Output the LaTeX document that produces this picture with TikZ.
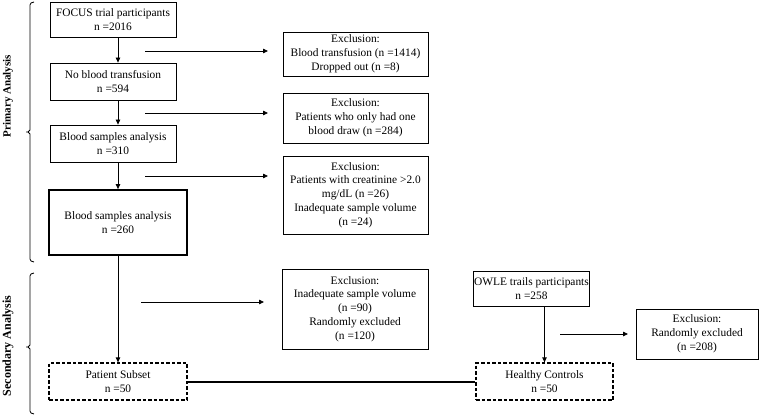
\documentclass[tikz,border=0pt]{standalone}
\usepackage{fontspec}
\setmainfont{Liberation Serif}
\usetikzlibrary{arrows.meta,calc}
\begin{document}
\begin{tikzpicture}[x=1pt,y=-1pt,
  box/.style={draw,line width=0.8pt,rectangle,align=center,inner sep=1pt,
    font=\fontsize{11.4}{13.8}\selectfont},
  thickbox/.style={box,line width=1.8pt},
  dashbox/.style={box,line width=1.3pt,dash pattern=on 3.5pt off 2pt},
  arr/.style={line width=0.8pt,-{Triangle[width=4.5pt,length=5pt]}},
  brace/.style={line width=0.8pt},
  lab/.style={font=\fontsize{11}{13}\selectfont\bfseries,rotate=90}]
\useasboundingbox (0,0) rectangle (760,417);
% left column
\node[box,minimum width=126pt,minimum height=35pt] (focus) at (113,19.5) {FOCUS trial participants\\n =2016};
\node[box,minimum width=126pt,minimum height=37pt] (nobt) at (113,81.5) {No blood transfusion\\n =594};
\node[box,minimum width=126pt,minimum height=37pt] (bs310) at (113,143.5) {Blood samples analysis\\n =310};
\node[thickbox,minimum width=138pt,minimum height=65pt] (bs260) at (118,222.5) {Blood samples analysis\\n =260};
\node[dashbox,minimum width=138pt,minimum height=37pt] (ps) at (118,381.5) {Patient Subset\\n =50};
% exclusion boxes
\node[box,minimum width=145pt,minimum height=44pt] (ex1) at (355.5,54) {Exclusion:\\Blood transfusion (n =1414)\\Dropped out (n =8)};
\node[box,minimum width=145pt,minimum height=50pt] (ex2) at (355.5,118) {Exclusion:\\Patients who only had one\\blood draw (n =284)};
\node[box,minimum width=145pt,minimum height=78pt] (ex3) at (355.5,195) {Exclusion:\\Patients with creatinine >2.0\\mg/dL (n =26)\\Inadequate sample volume\\(n =24)};
\node[box,minimum width=146pt,minimum height=80pt] (ex4) at (355,309) {Exclusion:\\Inadequate sample volume\\(n =90)\\Randomly excluded\\(n =120)};
% right column
\node[box,minimum width=109pt,minimum height=35pt] (owle) at (531.5,288.5) {OWLE trails participants\\n =258};
\node[dashbox,minimum width=137pt,minimum height=37pt] (hc) at (544.5,381.5) {Healthy Controls\\n =50};
\node[box,minimum width=122pt,minimum height=50pt] (ex5) at (697,334) {Exclusion:\\Randomly excluded\\(n =208)};
% vertical arrows
\draw[arr] (focus.south -| bs260) -- (nobt.north -| bs260);
\draw[arr] (nobt.south -| bs260) -- (bs310.north -| bs260);
\draw[arr] (bs310.south -| bs260) -- (bs260.north);
\draw[arr] (bs260.south) -- (ps.north);
\draw[arr] (owle.south -| hc) -- (hc.north);
% horizontal arrows
\coordinate (h1s) at (145,51); \coordinate (h1e) at (268,51);
\coordinate (h2s) at (145,113); \coordinate (h2e) at (268,113);
\coordinate (h3s) at (145,176); \coordinate (h3e) at (268,176);
\coordinate (h4s) at (141,302); \coordinate (h4e) at (264,302);
\coordinate (h5s) at (560,334); \coordinate (h5e) at (628,334);
\draw[arr] (h1s) -- (h1e);
\draw[arr] (h2s) -- (h2e);
\draw[arr] (h3s) -- (h3e);
\draw[arr] (h4s) -- (h4e);
\draw[arr] (h5s) -- (h5e);
% connection
\draw[line width=2pt] (ps.east) -- (hc.west);
% braces
\draw[brace] (34,2) -- (31,3) -- (30,5) -- (30,130) -- (28,132) -- (26,132) (28,132) -- (30,134) -- (30,259) -- (31,261) -- (34,262);
\draw[brace] (34,273) -- (31,274) -- (30,276) -- (30,345) -- (28,347) -- (26,347) (28,347) -- (30,349) -- (30,411) -- (31,413) -- (34,414);
% labels
\node[lab] (pa) at (8,96) {Primary Analysis};
\node[lab,font=\fontsize{12}{13}\selectfont\bfseries] (sa) at (8,346) {Secondary Analysis};
\end{tikzpicture}
\end{document}
